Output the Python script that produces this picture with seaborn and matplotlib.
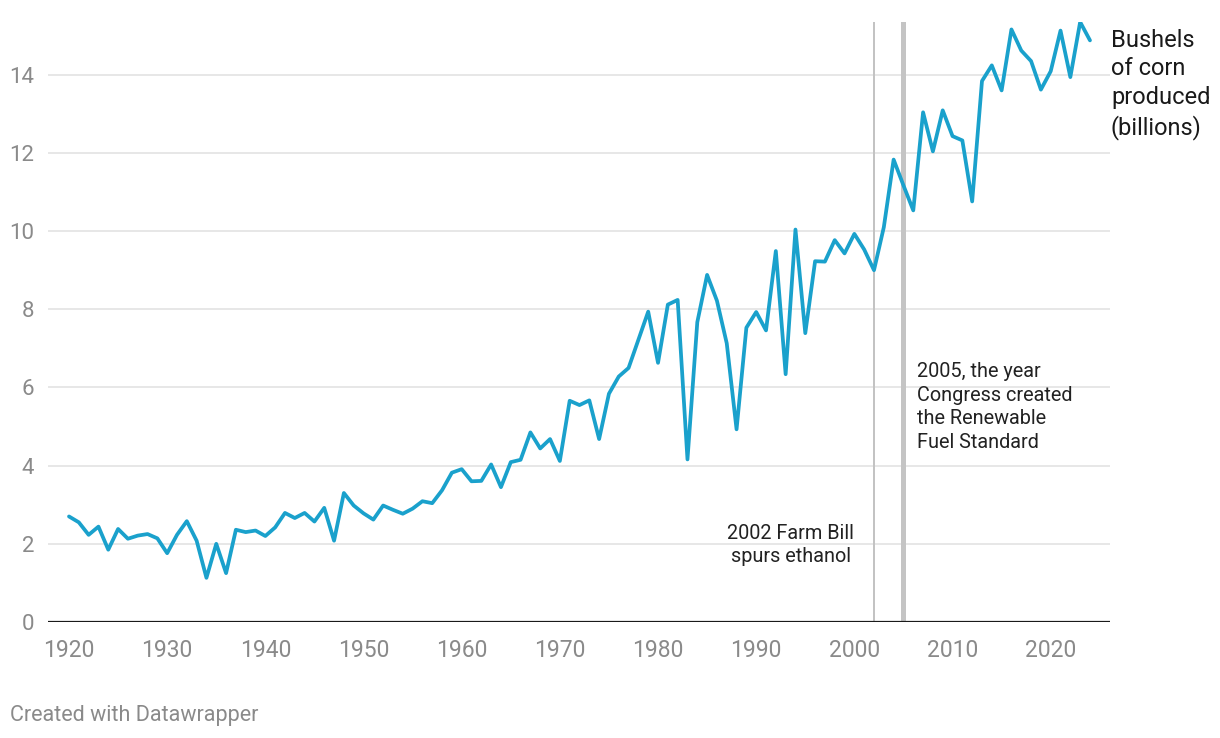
import matplotlib
matplotlib.use("Agg")
import matplotlib.pyplot as plt
import seaborn as sns
import pandas as pd
import numpy as np

years = list(range(1920, 2025))
bushels = [
    2.70, 2.55, 2.23, 2.44, 1.85, 2.38, 2.13, 2.21, 2.25, 2.14,   # 1920s
    1.76, 2.23, 2.58, 2.08, 1.13, 2.00, 1.25, 2.36, 2.30, 2.34,   # 1930s
    2.20, 2.42, 2.79, 2.66, 2.79, 2.57, 2.92, 2.08, 3.30, 2.98,   # 1940s
    2.78, 2.62, 2.98, 2.87, 2.77, 2.90, 3.09, 3.04, 3.37, 3.82,   # 1950s
    3.91, 3.60, 3.61, 4.03, 3.45, 4.09, 4.15, 4.85, 4.44, 4.68,   # 1960s
    4.12, 5.66, 5.55, 5.67, 4.68, 5.84, 6.28, 6.50, 7.22, 7.94,   # 1970s
    6.63, 8.12, 8.24, 4.16, 7.67, 8.88, 8.22, 7.13, 4.93, 7.53,   # 1980s
    7.93, 7.46, 9.49, 6.34, 10.04, 7.39, 9.23, 9.22, 9.77, 9.43,  # 1990s
    9.93, 9.53, 9.00, 10.10, 11.83, 11.17, 10.53, 13.04, 12.04, 13.09,  # 2000s
    12.43, 12.32, 10.76, 13.84, 14.24, 13.60, 15.16, 14.62, 14.35, 13.62,  # 2010s
    14.09, 15.13, 13.94, 15.35, 14.88,                              # 2020s
]
y_ticks = [0, 2, 4, 6, 8, 10, 12, 14]
x_ticks = [1920, 1930, 1940, 1950, 1960, 1970, 1980, 1990, 2000, 2010, 2020]
farm_bill_year = 2002
rfs_year = 2005
series_label = "Bushels\nof corn\nproduced\n(billions)"
note_2002 = "2002 Farm Bill\nspurs ethanol"
note_2005 = "2005, the year\nCongress created\nthe Renewable\nFuel Standard"
credit = "Created with Datawrapper"

df = pd.DataFrame({"year": years, "bushels": bushels})

sns.set_theme(style="white")
plt.rcParams['font.family'] = ['Roboto', 'DejaVu Sans']

W, H = 1220, 738
fig = plt.figure(figsize=(W / 100, H / 100), dpi=100)
ax = fig.add_axes([48 / W, 1 - 622 / H, (1110 - 48) / W, (622 - 22) / H])

# gridlines
for t in y_ticks[1:]:
    ax.axhline(t, color="#e3e3e3", lw=1.2, zorder=0)
ax.axhline(0, color="#1a1a1a", lw=1.6, zorder=3)

# annotation markers
ax.axvline(farm_bill_year, color="#c2c2c2", lw=1.4, zorder=1)
ax.axvspan(rfs_year - 0.3, rfs_year + 0.3, color="#c4c4c4", lw=0, zorder=1)

sns.lineplot(data=df, x="year", y="bushels", ax=ax, color="#1aa1cc", lw=2.7, zorder=4)

ax.set_xlim(1917.86, 2026.04)
ax.set_ylim(0, 15.35)
ax.set_xticks(x_ticks)
ax.set_yticks(y_ticks)
ax.set_xticklabels([str(x) for x in x_ticks], fontsize=16.5, color="#8a8a8a")
ax.set_yticklabels([str(y) for y in y_ticks], fontsize=16, color="#8a8a8a")
ax.tick_params(axis="x", length=0, pad=12)
ax.tick_params(axis="y", length=0, pad=10)
ax.set_xlabel("")
ax.set_ylabel("")
for s in ax.spines.values():
    s.set_visible(False)

ax.text(1993.5, 1.97, note_2002, ha="center", va="center", fontsize=14.3,
        color="#222222", linespacing=1.3)
ax.text(2006.4, 6.65, note_2005, ha="left", va="top", fontsize=14.3,
        color="#222222", linespacing=1.3)

fig.text(1111 / W, 1 - 29 / H, series_label, ha="left", va="top", fontsize=17,
         color="#1a1a1a", linespacing=1.3)
fig.text(10 / W, 1 - 716 / H, credit, ha="left", va="center", fontsize=15.5,
         color="#8a8a8a")

fig.savefig("out.png", dpi=100)
